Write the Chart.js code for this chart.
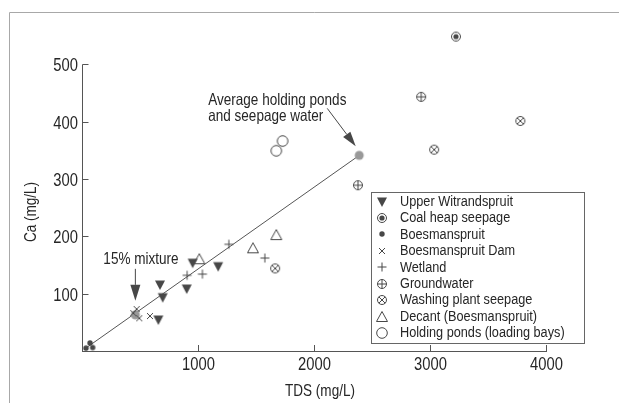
<!DOCTYPE html>
<html>
<head>
<meta charset="utf-8">
<title>Ca vs TDS</title>
<script src="https://cdn.jsdelivr.net/npm/chart.js"></script>
<style>
  html, body { margin: 0; padding: 0; background: #fff; }
  canvas { display: block; }
</style>
</head>
<body>
<canvas id="chartCa" width="619" height="403"></canvas>
<script>
// TDS (mg/L) on x, Ca (mg/L) on y, one list per sampling group
const upperWitrandspruit = [
  {x: 954, y: 153}, {x: 1174, y: 147}, {x: 672, y: 115},
  {x: 696, y: 93}, {x: 903, y: 108}, {x: 658, y: 54}
]
const coalHeapSeepage = [{x: 3224, y: 548}]
const boesmanspruit = [{x: 34, y: 5}, {x: 69, y: 14}, {x: 92, y: 6}]
const boesmanspruitDam = [{x: 442, y: 66}, {x: 471, y: 73}, {x: 494, y: 57}, {x: 586, y: 61}]
const wetland = [{x: 906, y: 132}, {x: 1038, y: 134}, {x: 1266, y: 186}, {x: 1576, y: 162}]
const groundwater = [{x: 2924, y: 443}, {x: 2379, y: 289}]
const washingPlant = [{x: 3779, y: 401}, {x: 3036, y: 351}, {x: 1665, y: 144}]
const decant = [{x: 1011, y: 160}, {x: 1474, y: 179}, {x: 1675, y: 202}]
const holdingPonds = [{x: 1675, y: 349}, {x: 1729, y: 366}]

// mixing line between river water and the pond/seepage average
const mixingLine = [{x: 40, y: 6}, {x: 2390, y: 341}]
const averagePoint = {x: 2390, y: 341}
const mixturePoint = {x: 460, y: 63}

const seriesNames = [
  'Upper Witrandspruit', 'Coal heap seepage', 'Boesmanspruit', 'Boesmanspruit Dam',
  'Wetland', 'Groundwater', 'Washing plant seepage', 'Decant (Boesmanspruit)',
  'Holding ponds (loading bays)'
]
const xTicks = [1000, 2000, 3000, 4000]
const yTicks = [100, 200, 300, 400, 500]
const yAxisTop = 500      // the drawn axis stops here, the scale runs higher
const xTitle = 'TDS (mg/L)'
const yTitle = 'Ca (mg/L)'
const averageLabel = ['Average holding ponds', 'and seepage water']
const mixtureLabel = '15% mixture'

const INK = '#474747'
const TEXT = '#262626'
const FONT = '"Liberation Sans", Arial, sans-serif'
const NARROW = 0.82   // squeeze Arial-style glyphs into a narrow face

// small canvases used as point styles (and reused by the legend)
function marker(kind) {
  const c = document.createElement('canvas')
  c.width = 16
  c.height = 16
  const g = c.getContext('2d')
  g.translate(8, 8)
  g.strokeStyle = INK
  g.fillStyle = INK
  g.lineWidth = 1
  const ring = (r) => { g.beginPath(); g.arc(0, 0, r, 0, Math.PI * 2); g.stroke() }
  const seg = (a, b, c2, d) => { g.beginPath(); g.moveTo(a, b); g.lineTo(c2, d); g.stroke() }
  if (kind === 'down') {
    g.beginPath(); g.moveTo(-5, -4.5); g.lineTo(5, -4.5); g.lineTo(0, 5); g.closePath(); g.fill()
  } else if (kind === 'target') {
    ring(4.5)
    g.beginPath(); g.arc(0, 0, 2.6, 0, Math.PI * 2); g.fill()
  } else if (kind === 'dot') {
    g.beginPath(); g.arc(0, 0, 2.7, 0, Math.PI * 2); g.fill()
  } else if (kind === 'cross') {
    seg(-3, -3, 3, 3); seg(-3, 3, 3, -3)
  } else if (kind === 'plus') {
    seg(-4.5, 0, 4.5, 0); seg(0, -4.5, 0, 4.5)
  } else if (kind === 'oplus') {
    ring(4.5); seg(-4.5, 0, 4.5, 0); seg(0, -4.5, 0, 4.5)
  } else if (kind === 'otimes') {
    ring(4.5); seg(-3.2, -3.2, 3.2, 3.2); seg(-3.2, 3.2, 3.2, -3.2)
  } else if (kind === 'tri') {
    g.beginPath(); g.moveTo(-5.5, 4.5); g.lineTo(5.5, 4.5); g.lineTo(0, -5.5); g.closePath(); g.stroke()
  } else if (kind === 'ring') {
    ring(5.3)
  } else if (kind === 'grey') {
    g.fillStyle = '#999'
    g.beginPath(); g.arc(0, 0, 4.5, 0, Math.PI * 2); g.fill()
  }
  return c
}

const seriesData = [
  upperWitrandspruit, coalHeapSeepage, boesmanspruit, boesmanspruitDam,
  wetland, groundwater, washingPlant, decant, holdingPonds
]
const seriesMarkers = ['down', 'target', 'dot', 'cross', 'plus', 'oplus', 'otimes', 'tri', 'ring'].map(marker)

const datasets = seriesData.map((d, i) => ({
  type: 'scatter',
  label: seriesNames[i],
  data: d,
  pointStyle: seriesMarkers[i],
  pointRadius: 5,
  clip: false,
  order: 1
}))
datasets.push({
  type: 'scatter',
  label: 'mixing points',
  data: [averagePoint, mixturePoint],
  pointStyle: marker('grey'),
  pointRadius: 5,
  clip: false,
  order: 2
})
datasets.push({
  type: 'line',
  label: 'mixing line',
  data: mixingLine,
  borderColor: '#555',
  borderWidth: 1,
  pointRadius: 0,
  fill: false,
  order: 10
})

function arrow(ctx, x0, y0, x1, y1, len, half) {
  const a = Math.atan2(y1 - y0, x1 - x0)
  const bx = x1 - len * Math.cos(a)
  const by = y1 - len * Math.sin(a)
  ctx.beginPath()
  ctx.moveTo(x0, y0)
  ctx.lineTo(bx, by)
  ctx.stroke()
  ctx.beginPath()
  ctx.moveTo(x1, y1)
  ctx.lineTo(bx + half * Math.sin(a), by - half * Math.cos(a))
  ctx.lineTo(bx - half * Math.sin(a), by + half * Math.cos(a))
  ctx.closePath()
  ctx.fill()
}

// condensed text: x squeezed around the anchor point
function text(ctx, str, x, y, size, align, baseline, rotate) {
  ctx.save()
  ctx.translate(x, y)
  if (rotate) ctx.rotate(-Math.PI / 2)
  ctx.scale(NARROW, 1)
  ctx.font = size + 'px ' + FONT
  ctx.fillStyle = TEXT
  ctx.textAlign = align
  ctx.textBaseline = baseline
  ctx.fillText(str, 0, 0)
  ctx.restore()
}

const decor = {
  id: 'decor',
  beforeDraw(chart) {
    // outer frame, top and left edges only
    const ctx = chart.ctx
    ctx.save()
    ctx.strokeStyle = '#a8a8a8'
    ctx.lineWidth = 1
    ctx.beginPath()
    ctx.moveTo(9.5, 403)
    ctx.lineTo(9.5, 12.5)
    ctx.lineTo(619, 12.5)
    ctx.stroke()
    ctx.restore()
  },
  afterDatasetsDraw(chart) {
    const ctx = chart.ctx
    const xs = chart.scales.x
    const ys = chart.scales.y
    ctx.save()
    ctx.strokeStyle = '#555'
    ctx.lineWidth = 1
    // y axis line from 0 up to the last tick
    const x0 = Math.round(xs.left) + 0.5
    ctx.beginPath()
    ctx.moveTo(x0, ys.bottom)
    ctx.lineTo(x0, Math.round(ys.getPixelForValue(yAxisTop)) + 0.5)
    ctx.stroke()
    // tick marks pointing into the plot, labels outside
    ys.ticks.forEach(t => {
      const py = Math.round(ys.getPixelForValue(t.value)) + 0.5
      ctx.beginPath(); ctx.moveTo(x0, py); ctx.lineTo(x0 + 6, py); ctx.stroke()
      text(ctx, String(t.value), xs.left - 4, py + 6.5, 18, 'right', 'alphabetic')
    })
    xs.ticks.forEach(t => {
      const px = Math.round(xs.getPixelForValue(t.value)) + 0.5
      ctx.beginPath(); ctx.moveTo(px, ys.bottom); ctx.lineTo(px, ys.bottom - 6); ctx.stroke()
      text(ctx, String(t.value), px, ys.bottom + 19, 18, 'center', 'alphabetic')
    })
    text(ctx, xTitle, (xs.left + xs.right) / 2 + 6, 396, 16.5, 'center', 'alphabetic')
    text(ctx, yTitle, 36, 212, 16.5, 'center', 'alphabetic', true)

    // annotations
    const ax = xs.getPixelForValue(averagePoint.x)
    const ay = ys.getPixelForValue(averagePoint.y)
    text(ctx, averageLabel[0], ax - 151, ay - 55, 16.5, 'left', 'middle')
    text(ctx, averageLabel[1], ax - 151, ay - 39, 16.5, 'left', 'middle')
    ctx.strokeStyle = INK
    ctx.fillStyle = INK
    arrow(ctx, ax - 32, ay - 47, ax - 3.5, ay - 9, 15, 4.5)

    const mx = xs.getPixelForValue(mixturePoint.x)
    const my = ys.getPixelForValue(mixturePoint.y)
    text(ctx, mixtureLabel, mx - 32, my - 55, 16.5, 'left', 'middle')
    ctx.fillStyle = INK
    arrow(ctx, mx, my - 46, mx, my - 14, 16, 5)
    ctx.restore()
  },
  afterDraw(chart) {
    // legend box inside the lower right of the plot
    const ctx = chart.ctx
    ctx.save()
    ctx.fillStyle = '#fff'
    ctx.fillRect(371.5, 192.5, 213, 151)
    ctx.strokeStyle = '#666'
    ctx.lineWidth = 1
    ctx.strokeRect(371.5, 192.5, 213, 151)
    seriesNames.forEach((name, i) => {
      const y = 201.5 + i * 16.45
      ctx.drawImage(seriesMarkers[i], 382 - 8, Math.round(y) - 8)
      text(ctx, name, 400, y, 15.5, 'left', 'middle')
    })
    ctx.restore()
  }
}

new Chart(document.getElementById('chartCa'), {
  data: { datasets },
  plugins: [decor],
  options: {
    responsive: false,
    animation: false,
    devicePixelRatio: 1,
    layout: { padding: { top: 28, right: 73, left: 0, bottom: 0 } },
    plugins: {
      legend: { display: false },
      tooltip: { enabled: false }
    },
    scales: {
      x: {
        type: 'linear',
        min: 0,
        max: 4000,
        afterBuildTicks: s => { s.ticks = xTicks.map(v => ({value: v})) },
        afterFit: s => { s.height = 52 },
        ticks: { display: false },
        grid: { display: false, drawTicks: false },
        border: { color: '#555', width: 1 }
      },
      y: {
        type: 'linear',
        min: 0,
        max: 563,
        afterBuildTicks: s => { s.ticks = yTicks.map(v => ({value: v})) },
        afterFit: s => { s.width = 82 },
        ticks: { display: false },
        grid: { display: false, drawTicks: false },
        border: { display: false }
      }
    }
  }
})
</script>
</body>
</html>
